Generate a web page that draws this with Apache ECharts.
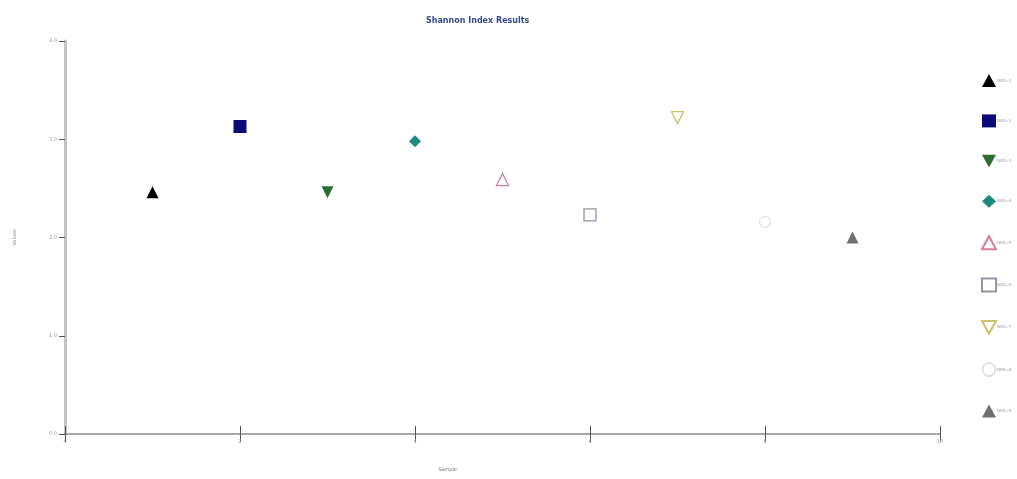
<!DOCTYPE html>
<html>
<head>
<meta charset="utf-8">
<script src="https://cdn.jsdelivr.net/npm/echarts@6/dist/echarts.min.js"></script>
<style>
  html, body { margin: 0; padding: 0; background: #fff; }
  #chart { width: 1017px; height: 479px; }
</style>
</head>
<body>
<div id="chart"></div>
<script>
// Shannon index per sample
const sampleNames = ['NSD=1', 'NSD=2', 'NSD=3', 'NSD=4', 'NSD=5', 'NSD=6', 'NSD=7', 'NSD=8', 'NSD=9'];
const sampleX = [1, 2, 3, 4, 5, 6, 7, 8, 9];
const shannonValues = [2.46, 3.13, 2.46, 2.98, 2.59, 2.23, 3.22, 2.16, 2.00];
const yTickLabels = ['0.0', '1.0', '2.0', '3.0', '4.0'];
const xTickLabels = ['0', '2', '4', '6', '8', '10'];

// Downward-pointing triangle shape
const downTriangle = 'path://M0,0 L10,0 L5,9 Z';

// Marker look for each sample
const markers = [
  { symbol: 'triangle',   size: 12, fill: '#000000', stroke: '#000000' },
  { symbol: 'rect',       size: 13, fill: '#0a0a78', stroke: '#0a0a78' },
  { symbol: downTriangle, size: 12, fill: '#2e6b2e', stroke: '#2e6b2e' },
  { symbol: 'diamond',    size: 12, fill: '#1d8a7e', stroke: '#1d8a7e' },
  { symbol: 'triangle',   size: 12, fill: '#ffffff', stroke: '#d47f92' },
  { symbol: 'rect',       size: 12, fill: '#ffffff', stroke: '#9a90a8' },
  { symbol: downTriangle, size: 12, fill: '#ffffff', stroke: '#c9c46a' },
  { symbol: 'circle',     size: 11, fill: '#ffffff', stroke: '#e2e2e2' },
  { symbol: 'triangle',   size: 12, fill: '#707070', stroke: '#707070' }
];

const series = sampleNames.map((name, i) => ({
  name: name,
  type: 'scatter',
  xAxisIndex: 0,
  yAxisIndex: 0,
  symbol: markers[i].symbol,
  symbolSize: markers[i].size,
  itemStyle: {
    color: markers[i].fill,
    borderColor: markers[i].stroke,
    borderWidth: markers[i].fill === '#ffffff' ? 1.3 : 0,
    opacity: 1
  },
  data: [[sampleX[i], shannonValues[i]]]
}));

const tickLabelStyle = { fontSize: 5, color: '#9a9a9a', fontFamily: 'DejaVu Sans' };

const option = {
  animation: false,
  backgroundColor: '#ffffff',
  title: {
    text: 'Shannon Index Results',
    left: 421,
    top: 12,
    textStyle: { fontSize: 8, fontWeight: 'bold', color: '#3a4a8c', fontFamily: 'DejaVu Sans' }
  },
  legend: {
    orient: 'vertical',
    left: 976,
    top: 69,
    itemGap: 27.4,
    itemWidth: 14,
    itemHeight: 13,
    textStyle: { fontSize: 4, color: '#9a9a9a', padding: [0, 0, 0, -4], fontFamily: 'DejaVu Sans' },
    data: sampleNames
  },
  grid: { left: 65, right: 77, top: 41, bottom: 45 },
  xAxis: [
    {
      type: 'value',
      min: 0, max: 10, interval: 2,
      name: 'Sample',
      nameLocation: 'middle',
      nameGap: 33,
      nameTextStyle: { fontSize: 5, color: '#777', fontFamily: 'DejaVu Sans', padding: [0, 0, 0, -110] },
      axisLine: { show: true, onZero: false, lineStyle: { color: '#8a8a8a', width: 1.5 } },
      axisTick: { show: true, inside: false, length: 8, lineStyle: { color: '#555', width: 1 } },
      axisLabel: {
        margin: 5,
        formatter: (v) => xTickLabels[Math.round(v / 2)],
        ...tickLabelStyle
      },
      splitLine: { show: false }
    },
    {
      type: 'value',
      min: 0, max: 10, interval: 2,
      position: 'bottom',
      axisLine: { show: false, onZero: false },
      axisTick: { show: true, inside: true, length: 8, lineStyle: { color: '#555', width: 1 } },
      axisLabel: { show: false },
      splitLine: { show: false }
    }
  ],
  yAxis: {
    type: 'value',
    min: 0, max: 4, interval: 1,
    name: 'Values',
    nameLocation: 'middle',
    nameGap: 48,
    nameRotate: 90,
    nameTextStyle: { fontSize: 5, color: '#888', fontFamily: 'DejaVu Sans' },
    axisLine: { show: true, onZero: false, lineStyle: { color: '#c4c4c4', width: 3 } },
    axisTick: { show: true, length: 6, lineStyle: { color: '#555', width: 1 } },
    axisLabel: {
      margin: 8,
      formatter: (v) => yTickLabels[Math.round(v)],
      ...tickLabelStyle
    },
    splitLine: { show: false }
  },
  series: series
};

const chart = echarts.init(document.getElementById('chart'), null, { renderer: 'canvas' });
chart.setOption(option);
</script>
</body>
</html>
